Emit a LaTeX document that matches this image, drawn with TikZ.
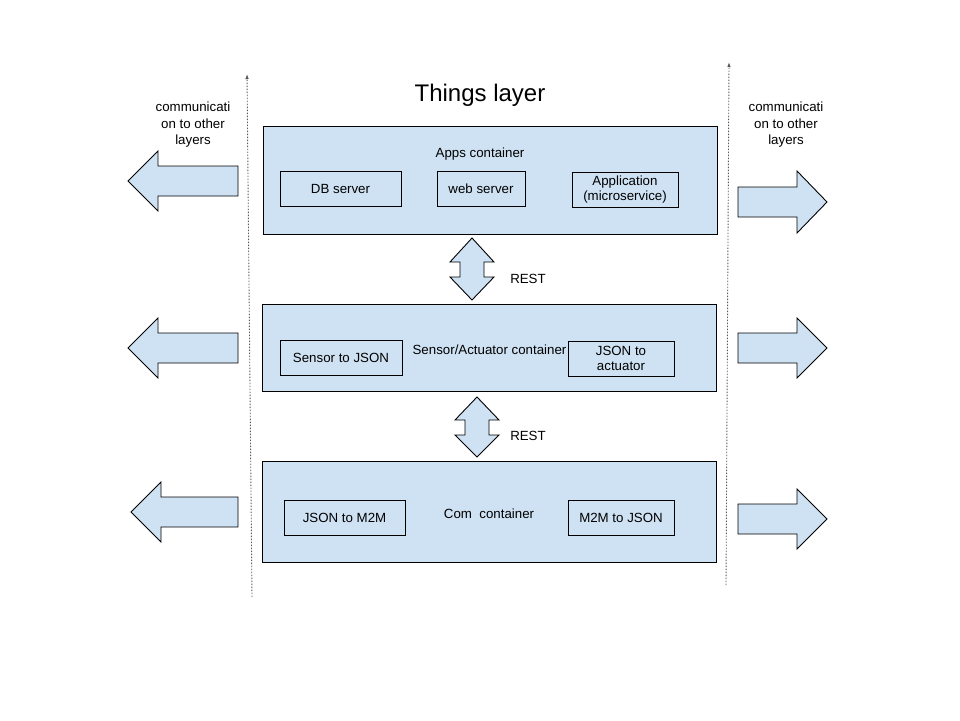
\documentclass[tikz,border=0pt]{standalone}
\usepackage{fontspec}
\setmainfont{Liberation Sans}
\usetikzlibrary{arrows.meta}
\definecolor{boxblue}{HTML}{CFE2F3}
\begin{document}
\begin{tikzpicture}[x=1pt,y=-1pt,
  every node/.style={font=\fontsize{13.3}{16}\selectfont},
  container/.style={draw=black,line width=0.9pt,fill=boxblue,minimum width=454pt,inner sep=0pt},
  inner/.style={draw=black,line width=0.9pt,fill=boxblue,minimum height=35pt,inner sep=0pt,align=center,font=\fontsize{13.3}{16}\selectfont},
  bigarrow/.style={draw=black,line width=0.9pt,fill=boxblue,line join=miter},
  sideline/.style={draw=black!65,line width=0.9pt,dash pattern=on 1.3pt off 1.7pt,-{Latex[length=5pt,width=3.5pt]}},
  plain/.style={inner sep=0pt,align=center}
]
\useasboundingbox (0,0) rectangle (960,720);

% title
\node[plain,font=\fontsize{24}{28}\selectfont] (title) at (480,95) {Things layer};

% containers
\node[container,minimum height=108pt] (apps) at (490,180) {};
\node[inner,minimum width=121pt] (db) at (340.5,189) {\raisebox{-1pt}{DB server}};
\node[inner,minimum width=88pt] (web) at (481,189) {\raisebox{-1pt}{web server}};
\node[inner,minimum width=106pt,font=\fontsize{13.3}{15}\selectfont] (app) at (625,190) {Application\\(microservice)};
\node[plain] (appsl) at (480,154.5) {Apps container};

\node[container,minimum height=87pt] (sens) at (489,347.5) {};
\node[inner,minimum width=122pt] (s2j) at (341,357.5) {\raisebox{-1pt}{Sensor to JSON}};
\node[inner,minimum width=106pt,font=\fontsize{13.3}{15}\selectfont] (j2a) at (621,358.5) {JSON to\\actuator};
\node[plain] (sensl) at (489.5,350) {Sensor/Actuator container};

\node[container,minimum height=101pt] (com) at (489,511.5) {};
\node[inner,minimum width=121pt] (j2m) at (344.5,517.5) {\raisebox{-1pt}{JSON to M2M}};
\node[inner,minimum width=106pt] (m2j) at (621,518) {\raisebox{-1pt}{M2M to JSON}};
\node[plain] (coml) at (489,513.5) {Com\ \ container};

% REST double arrows
\draw[bigarrow] (472,238) -- (494,262) -- (484,262) -- (484,277) -- (494,277) -- (472,300)
  -- (450,277) -- (460,277) -- (460,262) -- (450,262) -- cycle;
\node[plain] (rest1) at (528,278.5) {REST};
\draw[bigarrow] (477,397) -- (499,420) -- (489,420) -- (489,435) -- (499,435) -- (477,457)
  -- (455,435) -- (465,435) -- (465,420) -- (455,420) -- cycle;
\node[plain] (rest2) at (528,435.5) {REST};

% side labels
\node[plain,font=\fontsize{13.3}{16.5}\selectfont] (cl) at (193,125) {communicati\\on to other\\layers};
\node[plain,font=\fontsize{13.3}{16.5}\selectfont] (cr) at (786,125) {communicati\\on to other\\layers};

% left arrows
\draw[bigarrow] (128,181) -- (158,151) -- (158,166) -- (238,166) -- (238,196) -- (158,196) -- (158,211) -- cycle;
\draw[bigarrow] (128,348) -- (158,318) -- (158,333) -- (238,333) -- (238,363) -- (158,363) -- (158,378) -- cycle;
\draw[bigarrow] (131,512) -- (161,482) -- (161,497) -- (238,497) -- (238,527) -- (161,527) -- (161,542) -- cycle;

% right arrows
\draw[bigarrow] (827,202) -- (797,171) -- (797,187) -- (738,187) -- (738,217) -- (797,217) -- (797,233) -- cycle;
\draw[bigarrow] (827,348) -- (797,318) -- (797,333) -- (738,333) -- (738,363) -- (797,363) -- (797,378) -- cycle;
\draw[bigarrow] (827,519) -- (797,489) -- (797,504) -- (738,504) -- (738,534) -- (797,534) -- (797,549) -- cycle;

% dotted side lines
\coordinate (lb) at (252,597);
\coordinate (lt) at (247,74);
\coordinate (rb) at (726,585);
\coordinate (rt) at (729,62);
\draw[sideline] (lb) -- (lt);
\draw[sideline] (rb) -- (rt);
\end{tikzpicture}
\end{document}
